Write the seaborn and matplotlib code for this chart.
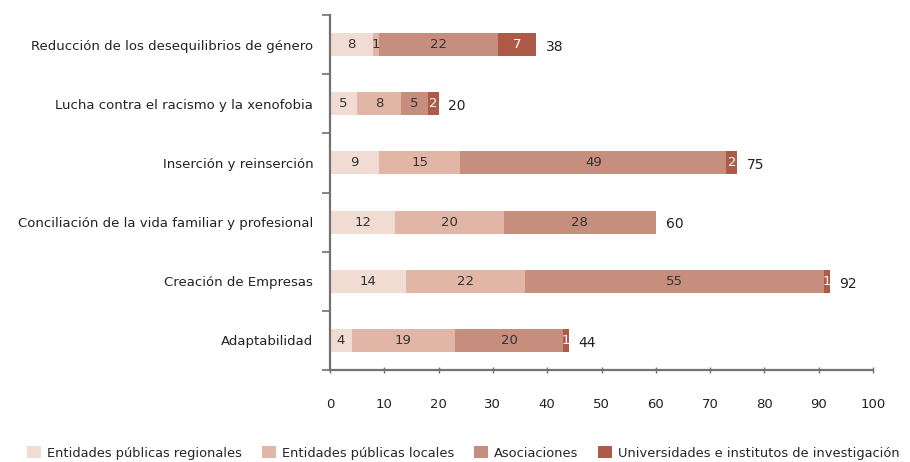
import numpy as np
import pandas as pd
import matplotlib
matplotlib.use("Agg")
import matplotlib.pyplot as plt
from matplotlib.patches import Patch
from matplotlib.ticker import FixedLocator
import seaborn as sns

categories = [
    "Reducción de los desequilibrios de género",
    "Lucha contra el racismo y la xenofobia",
    "Inserción y reinserción",
    "Conciliación de la vida familiar y profesional",
    "Creación de Empresas",
    "Adaptabilidad",
]
series_names = [
    "Entidades públicas regionales",
    "Entidades públicas locales",
    "Asociaciones",
    "Universidades e institutos de investigación",
]
regionales = [8, 5, 9, 12, 14, 4]
locales = [1, 8, 15, 20, 22, 19]
asociaciones = [22, 5, 49, 28, 55, 20]
universidades = [7, 2, 2, 0, 1, 1]
x_ticks = [0, 10, 20, 30, 40, 50, 60, 70, 80, 90, 100]

series_values = [regionales, locales, asociaciones, universidades]
colors = ["#f1dcd4", "#e2b6a6", "#c68e7d", "#ad5a49"]
label_colors = ["#333333", "#333333", "#333333", "white"]

sns.set_theme(style="white")
plt.rcParams["font.family"] = ["DejaVu Sans"]

fig = plt.figure(figsize=(9.1, 4.62), dpi=100)
ax = fig.add_axes([330 / 910, 1 - 370 / 462, 543 / 910, 355 / 462])

vals = np.array(series_values, dtype=float)
cum = np.cumsum(vals, axis=0)
totals = cum[-1]

# draw cumulative bars back-to-front so each series shows as a stacked segment
for i in range(len(series_names) - 1, -1, -1):
    df = pd.DataFrame({"categoria": categories, "valor": cum[i]})
    sns.barplot(data=df, x="valor", y="categoria", orient="h", order=categories,
                color=colors[i], width=0.39, saturation=1, ax=ax, linewidth=0)

for j in range(len(categories)):
    start = 0.0
    for i in range(len(series_names)):
        v = vals[i, j]
        if v > 0:
            ax.text(start + v / 2, j, f"{int(v)}", ha="center", va="center",
                    fontsize=9.5, color=label_colors[i])
        start += v
    ax.text(totals[j] + 1.8, j + 0.04, f"{int(totals[j])}", ha="left", va="center",
            fontsize=10, color="#222222")

ax.set_xlim(0, 100)
ax.set_ylim(5.5, -0.5)
ax.set_xlabel("")
ax.set_ylabel("")
ax.set_xticks(x_ticks)
ax.set_xticklabels([str(t) for t in x_ticks])
ax.yaxis.set_minor_locator(FixedLocator(np.arange(-0.5, 6.0, 1.0)))

for side in ["top", "right"]:
    ax.spines[side].set_visible(False)
for side in ["left", "bottom"]:
    ax.spines[side].set_color("#777070")
    ax.spines[side].set_linewidth(1.6)

ax.tick_params(axis="x", which="major", direction="inout", length=5, width=1,
               color="#777070", pad=18, labelsize=9.5, labelcolor="#222222", bottom=True)
ax.tick_params(axis="y", which="major", length=0, pad=12, labelsize=9.5, labelcolor="#222222")
ax.tick_params(axis="y", which="minor", direction="out", length=6, width=1.2,
               color="#777070", left=True)

handles = [Patch(facecolor=c, edgecolor="none") for c in colors]
fig.legend(handles, series_names, loc="center left", bbox_to_anchor=(27 / 910, 1 - 453 / 462),
           ncol=4, frameon=False, fontsize=9.4, handlelength=1.1, handleheight=1.05,
           handletextpad=0.45, columnspacing=1.5, borderaxespad=0, borderpad=0)

fig.savefig("out.png", dpi=100)
